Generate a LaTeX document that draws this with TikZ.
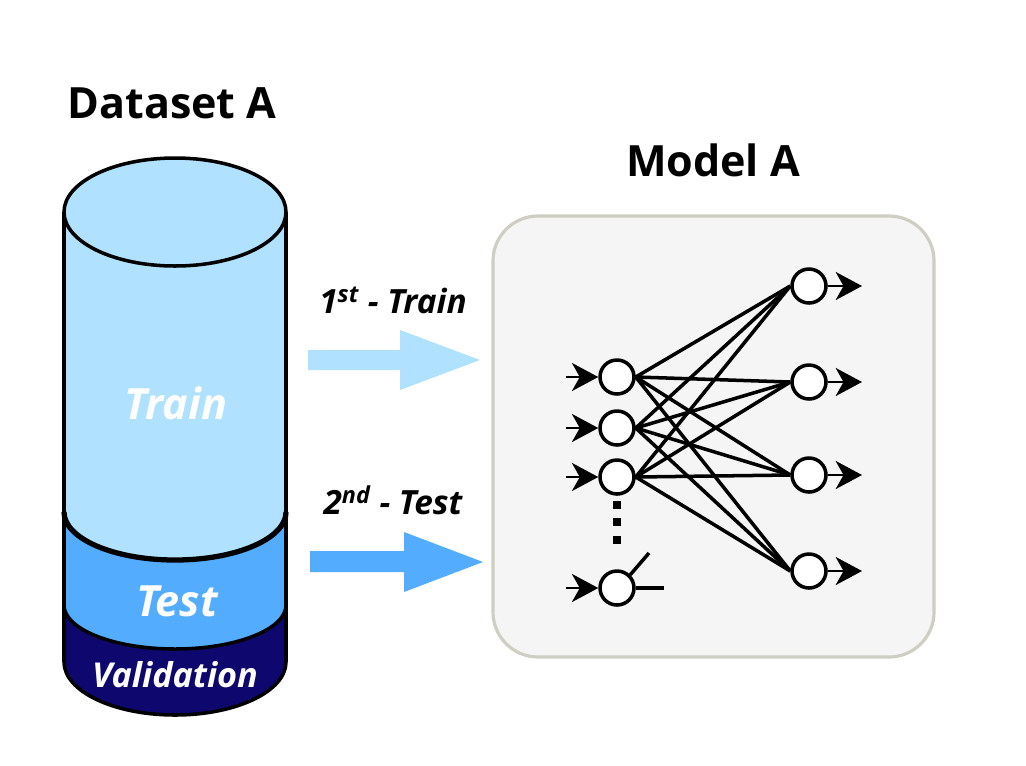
\documentclass[tikz,border=0pt]{standalone}
\usepackage{fontspec}
\setmainfont{Open Sans}
\usetikzlibrary{arrows.meta}
\definecolor{trainblue}{RGB}{176,226,255}
\definecolor{testblue}{RGB}{84,172,255}
\definecolor{valnavy}{RGB}{14,8,110}
\definecolor{boxfill}{RGB}{245,245,245}
\definecolor{boxline}{RGB}{206,206,194}
\def\bigfont{\fontsize{24.5}{29}\selectfont\bfseries}
\def\stepfont{\fontsize{19}{23}\selectfont\bfseries\itshape}
\tikzset{
	neuron/.style={circle, draw, fill=white, line width=2pt, inner sep=0pt, minimum size=0.68cm},
	sig/.style={line width=1.3pt, -{Stealth[length=15pt, width=16pt, inset=4.5pt]}},
	link/.style={line width=2pt}
}

\begin{document}
\begin{tikzpicture}[x=0.02cm, y=-0.02cm]
			%%%%% START %%%%%
			\useasboundingbox (0,0) rectangle (1026,765);
			
			\node[font=\bigfont] (dsTitle) at (172,103) {Dataset A};
			\node[font=\bigfont] (mdTitle) at (713,160) {Model A};
			
			\fill[valnavy] (64,605) arc (180:0:111 and 44) -- (286,662) arc (0:180:111 and 53) -- cycle;
			\fill[testblue] (64,512) arc (180:0:111 and 48) -- (286,605) arc (0:180:111 and 44) -- cycle;
			\fill[trainblue] (64,212) -- (64,512) arc (180:0:111 and 48) -- (286,212) arc (0:-180:111 and 54) -- cycle;
			
			\draw[line width=2pt] (175,212) ellipse (111 and 54);
			\draw[line width=2pt] (64,212) -- (64,662) arc (180:0:111 and 53) -- (286,212);
			\draw[line width=3pt] (64,512) arc (180:0:111 and 48);
			\draw[line width=2pt] (64,605) arc (180:0:111 and 44);
			
			\node[font=\bigfont\itshape, text=white] (trainTxt) at (176,403) {Train};
			\node[font=\bigfont\itshape, text=white] (testTxt) at (177,601) {Test};
			\node[font=\fontsize{19.5}{23}\selectfont\bfseries\itshape, text=white] (valTxt) at (175,675) {Validation};
			
			\node[font=\stepfont] (firstTxt) at (393,300) {1\textsuperscript{st} - Train};
			\fill[trainblue] (308,350) -- (400,350) -- (400,330) -- (480,360) -- (400,390) -- (400,370) -- (308,370) -- cycle;
			
			\node[font=\stepfont] (secondTxt) at (393,500) {2\textsuperscript{nd} - Test};
			\fill[testblue] (310,551) -- (404,551) -- (404,532) -- (483,562) -- (404,592) -- (404,572) -- (310,572) -- cycle;
			
			\draw[draw=boxline, fill=boxfill, line width=1.8pt, rounded corners=0.9cm] (493,216) rectangle (934,657);
			
			\node[neuron] (in1) at (617,377) {};
			\node[neuron] (in2) at (617,428) {};
			\node[neuron] (in3) at (617,477) {};
			\node[neuron] (in4) at (617,588) {};
			
			\node[neuron] (out1) at (809,286) {};
			\node[neuron] (out2) at (809,382) {};
			\node[neuron] (out3) at (809,475) {};
			\node[neuron] (out4) at (809,571) {};
			
			\draw[link] (in1.east) -- (out1.west);
			\draw[link] (in1.east) -- (out2.west);
			\draw[link] (in1.east) -- (out3.west);
			\draw[link] (in1.east) -- (out4.west);
			\draw[link] (in2.east) -- (out1.west);
			\draw[link] (in2.east) -- (out2.west);
			\draw[link] (in2.east) -- (out3.west);
			\draw[link] (in2.east) -- (out4.west);
			\draw[link] (in3.east) -- (out1.west);
			\draw[link] (in3.east) -- (out2.west);
			\draw[link] (in3.east) -- (out3.west);
			\draw[link] (in3.east) -- (out4.west);
			
			\draw[line width=4.5pt, dash pattern=on 4.5pt off 5.5pt] (in3.south) ++(0,5) coordinate (dotTop) -- (617,545) coordinate (dotBot);
			
			\coordinate (in4up) at (649,553);
			\coordinate (in4right) at (664,588);
			\draw[link] (in4.north east) -- (in4up);
			\draw[link] (in4.east) -- (in4right);
			
			\coordinate (src1) at (566,377);
			\coordinate (src2) at (566,428);
			\coordinate (src3) at (566,477);
			\coordinate (src4) at (566,588);
			\draw[sig] (src1) -- (in1);
			\draw[sig] (src2) -- (in2);
			\draw[sig] (src3) -- (in3);
			\draw[sig] (src4) -- (in4);
			
			\coordinate (dst1) at (862,286);
			\coordinate (dst2) at (862,382);
			\coordinate (dst3) at (862,475);
			\coordinate (dst4) at (862,571);
			\draw[sig] (out1) -- (dst1);
			\draw[sig] (out2) -- (dst2);
			\draw[sig] (out3) -- (dst3);
			\draw[sig] (out4) -- (dst4);
			
			%%%%% END %%%%%
		\end{tikzpicture}
\end{document}
